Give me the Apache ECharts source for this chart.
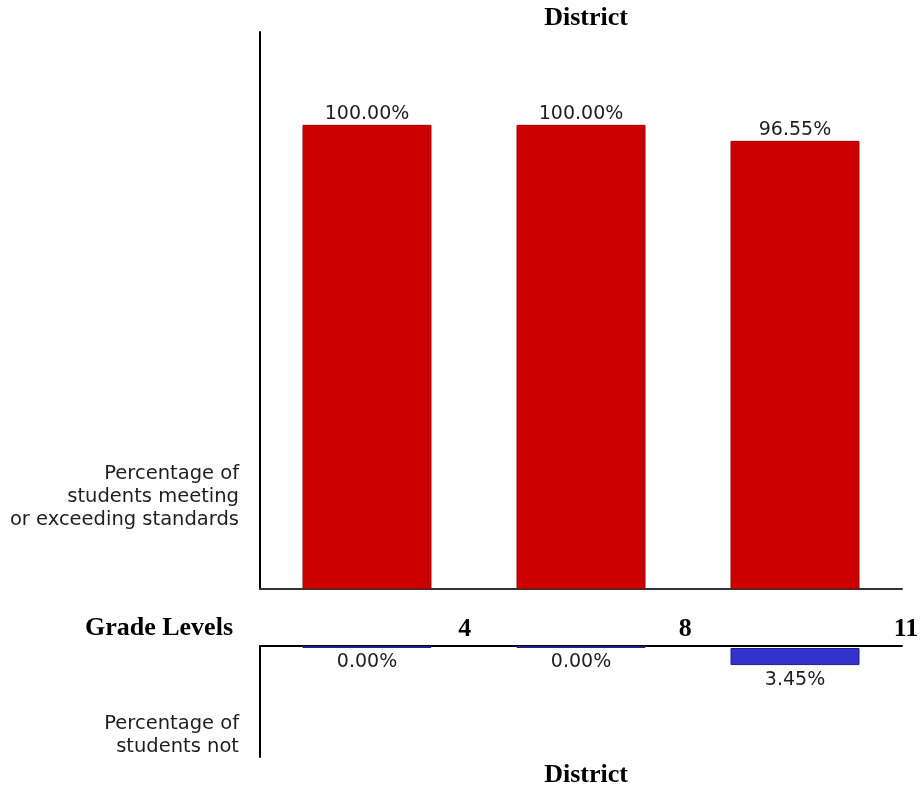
<!DOCTYPE html>
<html>
<head>
<meta charset="utf-8">
<script src="https://cdn.jsdelivr.net/npm/echarts@6/dist/echarts.min.js"></script>
<style>
html,body{margin:0;padding:0;background:#fff;}
#chart{width:923px;height:791px;}
</style>
</head>
<body>
<div id="chart"></div>
<script>
var categories = ['4', '8', '11'];
var gradeTickLabels = ['', '4', '8', '11'];
var meetingPct = [100, 100, 96.55];
var notMeetingPct = [0, 0, 3.45];

var SANS = '"DejaVu Sans", sans-serif';
var SERIF = '"Liberation Serif", "Times New Roman", serif';
var TXT = '#1e1e1e';

var chart = echarts.init(document.getElementById('chart'));
var fmt = function (p) { return p.value.toFixed(2) + '%'; };
var hiddenAxis = { axisLine: { show: false }, axisTick: { show: false },
  axisLabel: { show: false }, splitLine: { show: false } };

chart.setOption({
  animation: false,
  backgroundColor: '#fff',
  title: [
    { text: 'District', left: 581, top: 0, textAlign: 'center',
      textStyle: { fontFamily: SERIF, fontWeight: 'bold', fontSize: 26, color: '#000' } },
    { text: 'District', left: 581, top: 757, textAlign: 'center',
      textStyle: { fontFamily: SERIF, fontWeight: 'bold', fontSize: 26, color: '#000' } }
  ],
  graphic: [
    { type: 'text', style: {
        text: 'Percentage of\nstudents meeting\nor exceeding standards',
        x: 239, y: 497, align: 'right', verticalAlign: 'middle',
        fontFamily: SANS, fontSize: 19.5, lineHeight: 23, fill: TXT } },
    { type: 'text', style: {
        text: 'Percentage of\nstudents not',
        x: 239, y: 735, align: 'right', verticalAlign: 'middle',
        fontFamily: SANS, fontSize: 19.5, lineHeight: 23, fill: TXT } },
    { type: 'text', style: {
        text: 'Grade Levels',
        x: 233, y: 628, align: 'right', verticalAlign: 'middle',
        fontFamily: SERIF, fontWeight: 'bold', fontSize: 26, fill: '#000' } }
  ],
  grid: [
    { left: 260, width: 642, top: 32, height: 557 },
    { left: 260, width: 642, top: 648, height: 109 },
    { left: 244, width: 662, top: 628, height: 1 },
    { left: 260, width: 642, top: 646, height: 2 }
  ],
  xAxis: [
    { type: 'category', gridIndex: 0, data: categories,
      axisLine: { show: true, lineStyle: { color: '#333', width: 2 } },
      axisTick: { show: false }, axisLabel: { show: false } },
    Object.assign({ type: 'category', gridIndex: 1, data: categories, position: 'top' }, hiddenAxis),
    { type: 'category', gridIndex: 2, data: gradeTickLabels, boundaryGap: false,
      axisLine: { show: false }, axisTick: { show: false },
      axisLabel: { show: true, margin: 0, verticalAlign: 'middle', interval: 0,
        fontFamily: SERIF, fontWeight: 'bold', fontSize: 26, color: '#000' } },
    { type: 'category', gridIndex: 3, data: categories, position: 'top',
      axisLine: { show: true, onZero: false, lineStyle: { color: '#000', width: 2 } },
      axisTick: { show: false }, axisLabel: { show: false } }
  ],
  yAxis: [
    { type: 'value', gridIndex: 0, min: 0, max: 120,
      axisLine: { show: true, lineStyle: { color: '#000', width: 2 } },
      axisTick: { show: false }, axisLabel: { show: false }, splitLine: { show: false } },
    { type: 'value', gridIndex: 1, min: 0, max: 22, inverse: true,
      axisLine: { show: true, lineStyle: { color: '#000', width: 2 } },
      axisTick: { show: false }, axisLabel: { show: false }, splitLine: { show: false } },
    { type: 'value', gridIndex: 2, show: false },
    { type: 'value', gridIndex: 3, min: 0, max: 1,
      axisLine: { show: true, lineStyle: { color: '#000', width: 2 } },
      axisTick: { show: false }, axisLabel: { show: false }, splitLine: { show: false } }
  ],
  series: [
    { type: 'bar', xAxisIndex: 0, yAxisIndex: 0, data: meetingPct, barWidth: 129,
      itemStyle: { color: '#CC0000', borderColor: '#a30000', borderWidth: 1 },
      label: { show: true, position: 'top', distance: 1, formatter: fmt,
        fontFamily: SANS, fontSize: 19, color: TXT } },
    { type: 'bar', xAxisIndex: 1, yAxisIndex: 1, data: notMeetingPct, barWidth: 129,
      barMinHeight: 2, clip: false,
      itemStyle: { color: '#3333CC', borderColor: '#1f1f8a', borderWidth: 1 },
      label: { show: true, position: 'bottom', distance: 5, formatter: fmt,
        fontFamily: SANS, fontSize: 19, color: TXT } }
  ]
});
</script>
</body>
</html>
